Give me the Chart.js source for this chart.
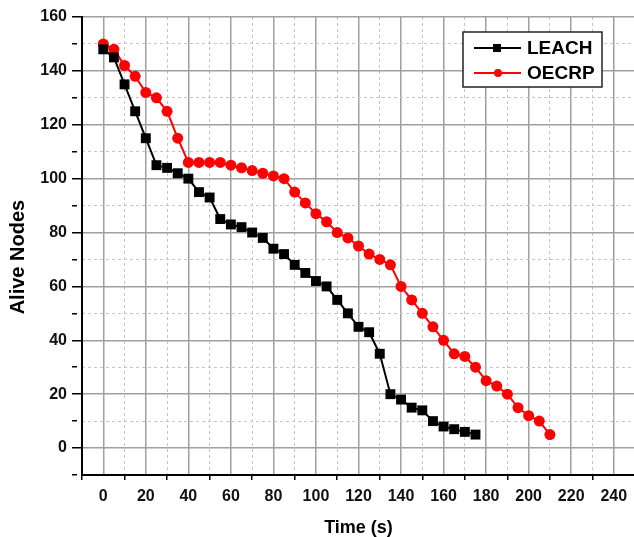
<!DOCTYPE html>
<html>
<head>
<meta charset="utf-8">
<script src="https://cdn.jsdelivr.net/npm/chart.js@4/dist/chart.umd.min.js"></script>
<style>
  html, body { margin: 0; background: #fff; overflow: hidden; }
  /* the original plot runs past the right edge of the picture */
  #aliveChart { display: block; }
</style>
</head>
<body>
<canvas id="aliveChart" width="642" height="537"></canvas>
<script>
// time axis (s)
const leachTime = [0, 5, 10, 15, 20, 25, 30, 35, 40, 45, 50, 55, 60, 65, 70, 75, 80, 85,
  90, 95, 100, 105, 110, 115, 120, 125, 130, 135, 140, 145, 150, 155, 160, 165, 170, 175];
const leachAlive = [148, 145, 135, 125, 115, 105, 104, 102, 100, 95, 93, 85, 83, 82, 80, 78, 74, 72,
  68, 65, 62, 60, 55, 50, 45, 43, 35, 20, 18, 15, 14, 10, 8, 7, 6, 5];

const oecrpTime = [0, 5, 10, 15, 20, 25, 30, 35, 40, 45, 50, 55, 60, 65, 70, 75, 80, 85,
  90, 95, 100, 105, 110, 115, 120, 125, 130, 135, 140, 145, 150, 155, 160, 165, 170, 175,
  180, 185, 190, 195, 200, 205, 210];
const oecrpAlive = [150, 148, 142, 138, 132, 130, 125, 115, 106, 106, 106, 106, 105, 104, 103, 102, 101, 100,
  95, 91, 87, 84, 80, 78, 75, 72, 70, 68, 60, 55, 50, 45, 40, 35, 34, 30,
  25, 23, 20, 15, 12, 10, 5];

const xRange = [-10, 250];
const yRange = [-10, 160];

const toPoints = (xs, ys) => xs.map((x, i) => ({ x: x, y: ys[i] }));

const isMajor = c => c.tick && c.tick.value % 20 === 0;

const tickFont = { family: 'Liberation Sans, Arial, sans-serif', size: 16, weight: 'bold' };

// boxed legend in the top right corner, like the original
const boxLegend = {
  id: 'boxLegend',
  afterDatasetsDraw(chart) {
    const ctx = chart.ctx;
    const right = 602;
    const top = 32;
    const w = 139, h = 55;
    const left = right - w;
    ctx.save();
    ctx.fillStyle = '#fff';
    ctx.fillRect(left, top, w, h);
    ctx.strokeStyle = '#222';
    ctx.lineWidth = 1.5;
    ctx.strokeRect(left, top, w, h);
    ctx.font = 'bold 19px "Liberation Sans", Arial, sans-serif';
    ctx.textBaseline = 'middle';
    chart.data.datasets.forEach((ds, i) => {
      const y = top + 16 + i * 25;
      ctx.strokeStyle = ds.borderColor;
      ctx.lineWidth = 2;
      ctx.beginPath();
      ctx.moveTo(left + 11, y);
      ctx.lineTo(left + 58, y);
      ctx.stroke();
      ctx.fillStyle = ds.pointBackgroundColor;
      if (ds.pointStyle === 'rect') {
        ctx.fillRect(left + 30, y - 4, 8, 8);
      } else {
        ctx.beginPath();
        ctx.arc(left + 35, y, 4, 0, Math.PI * 2);
        ctx.fill();
      }
      ctx.fillStyle = '#000';
      ctx.fillText(ds.label, left + 64, y + 1);
    });
    ctx.restore();
  }
};

const ctx1 = document.getElementById('aliveChart').getContext('2d');
new Chart(ctx1, {
  type: 'line',
  data: {
    datasets: [{
      label: 'LEACH',
      data: toPoints(leachTime, leachAlive),
      borderColor: '#000000',
      backgroundColor: '#000000',
      pointBackgroundColor: '#000000',
      pointBorderColor: '#000000',
      pointStyle: 'rect',
      pointRadius: 7,
      pointBorderWidth: 0,
      borderWidth: 2,
      tension: 0
    }, {
      label: 'OECRP',
      data: toPoints(oecrpTime, oecrpAlive),
      borderColor: '#ff0000',
      backgroundColor: '#ff0000',
      pointBackgroundColor: '#ff0000',
      pointBorderColor: '#ff0000',
      pointStyle: 'circle',
      pointRadius: 5.5,
      pointBorderWidth: 0,
      borderWidth: 2,
      tension: 0
    }]
  },
  options: {
    responsive: false,
    animation: false,
    layout: { padding: { top: 17, right: 0, left: 0, bottom: 0 } },
    scales: {
      x: {
        type: 'linear',
        position: 'bottom',
        min: xRange[0],
        max: xRange[1],
        afterFit: s => { s.height = 62; },
        ticks: {
          stepSize: 10,
          autoSkip: false,
          maxRotation: 0,
          color: '#111',
          font: tickFont,
          padding: 7,
          callback: v => (v % 20 === 0 && v < 250 ? String(v) : '')
        },
        grid: {
          color: c => (isMajor(c) && c.tick.value >= 0 ? '#a0a0a0' : 'rgba(0,0,0,0)'),
          lineWidth: 1.5,
          tickColor: c => (isMajor(c) ? 'rgba(0,0,0,0)' : '#000'),
          tickLength: 5,
          tickWidth: 1.5
        },
        border: { color: '#000', width: 2 },
        title: {
          display: true,
          text: 'Time (s)',
          color: '#000',
          font: { family: 'Liberation Sans, Arial, sans-serif', size: 18, weight: 'bold', lineHeight: 1 },
          padding: { top: 4, bottom: 0 }
        }
      },
      xMinor: {
        type: 'linear',
        position: 'bottom',
        min: xRange[0],
        max: xRange[1],
        ticks: { display: false, stepSize: 10 },
        grid: {
          drawTicks: false,
          color: c => (c.tick && Math.abs(c.tick.value % 20) === 10 && c.tick.value > 0 ? '#c4c4c4' : 'rgba(0,0,0,0)'),
          lineWidth: 1
        },
        border: { display: false, dash: [3, 3] }
      },
      y: {
        type: 'linear',
        position: 'left',
        min: yRange[0],
        max: yRange[1],
        afterFit: s => { s.width = 82; },
        ticks: {
          stepSize: 10,
          autoSkip: false,
          color: '#111',
          font: tickFont,
          padding: 5,
          callback: v => (v % 20 === 0 ? String(v) : '')
        },
        grid: {
          color: c => (isMajor(c) ? '#a0a0a0' : 'rgba(0,0,0,0)'),
          lineWidth: 1.5,
          tickColor: '#000',
          tickLength: 10,
          tickWidth: 1.5,
          tickBorderDash: c => (isMajor(c) ? [] : [5, 20])
        },
        border: { color: '#000', width: 2 },
        title: {
          display: true,
          text: 'Alive Nodes    ',
          color: '#000',
          font: { family: 'Liberation Sans, Arial, sans-serif', size: 20, weight: 'bold', lineHeight: 1 },
          padding: { top: 8, bottom: 4 }
        }
      },
      yMinor: {
        type: 'linear',
        position: 'left',
        min: yRange[0],
        max: yRange[1],
        ticks: { display: false, stepSize: 10 },
        grid: {
          drawTicks: false,
          color: c => (c.tick && Math.abs(c.tick.value % 20) === 10 && c.tick.value > -10 ? '#c4c4c4' : 'rgba(0,0,0,0)'),
          lineWidth: 1
        },
        border: { display: false, dash: [3, 3] }
      }
    },
    plugins: {
      legend: { display: false },
      tooltip: { enabled: false }
    }
  },
  plugins: [boxLegend]
});
</script>
</body>
</html>
